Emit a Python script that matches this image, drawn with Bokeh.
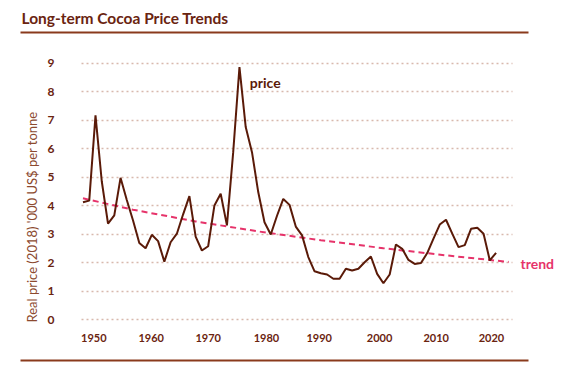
import math
from bokeh.plotting import figure
from bokeh.models import (Range1d, FixedTicker, CustomJSTickFormatter, Label,
                          ColumnDataSource, LinearAxis)
from bokeh.embed import file_html
from bokeh.resources import INLINE

# ---- data ----
years = list(range(1952, 2019))
price = [4.12, 4.18, 7.17, 4.86, 3.37, 3.66, 4.98, 4.20, 3.48, 2.69,
         2.51, 2.98, 2.76, 2.04, 2.72, 3.02, 3.70, 4.34, 2.92, 2.43,
         2.58, 4.01, 4.42, 3.31, 5.88, 8.86, 6.76, 5.88, 4.48, 3.42,
         2.99, 3.65, 4.24, 4.03, 3.27, 2.96, 2.20, 1.70, 1.63, 1.59,
         1.44, 1.44, 1.79, 1.73, 1.79, 2.02, 2.22, 1.61, 1.28, 1.59,
         2.64, 2.49, 2.10, 1.96, 1.99, 2.34, 2.85, 3.34, 3.51, 3.02,
         2.55, 2.62, 3.19, 3.23, 3.02, 2.08, 2.35]
assert len(years) == len(price)

trend_years = [1952, 1960, 1970, 1980, 1990, 2000, 2010, 2020]
trend_vals = [4.26, 3.86, 3.45, 3.10, 2.79, 2.51, 2.26, 2.03]

y_ticks = [0, 1, 2, 3, 4, 5, 6, 7, 8, 9]
x_tick_labels = ["1950", "1960", "1970", "1980", "1990", "2000", "2010", "2020"]
# where the decade labels sit along the data's year axis in the reference
x_tick_pos = [1953.73, 1962.90, 1972.01, 1981.32, 1989.74, 1999.38, 2008.43, 2017.27]

TITLE = "Long-term Cocoa Price Trends"
YLABEL = "Real price (2018) '000 US$ per tonne"
SERIES_LABEL = "price"
TREND_LABEL = "trend"
TREND_LABEL_AT = 1.96   # level of the trend line where its label sits

BROWN = "#5a1a08"
TITLE_BROWN = "#6a2410"
RULE = "#8a3a1c"
PINK = "#e6336a"
GRID = "#d8b9ad"
LIGHT = "#8c4a2f"
FONT = "Lato"

# plotting area spans the full width between the two rules
p = figure(width=567, height=372, output_backend="svg", toolbar_location=None,
           x_range=Range1d(1942.017, 2023.18), y_range=Range1d(-1.428, 10.077),
           min_border_left=20, min_border_right=39, min_border_top=32,
           min_border_bottom=12)
p.outline_line_color = None

# title
p.title.text = TITLE
p.title.align = "left"
p.title.offset = 1
p.title.standoff = 12
p.title.text_font = FONT
p.title.text_font_style = "bold"
p.title.text_font_size = "15.5px"
p.title.text_color = TITLE_BROWN

src = ColumnDataSource(dict(year=years, price=price))
tsrc = ColumnDataSource(dict(year=trend_years, val=trend_vals))
p.line("year", "val", source=tsrc, line_color=PINK, line_width=2, line_dash="6 4")
p.line("year", "price", source=src, line_color=BROWN, line_width=2)

# left value axis, drawn just left of where the gridlines begin
yax = p.yaxis[0]
yax.ticker = FixedTicker(ticks=y_ticks)
yax.fixed_location = 1947.77
yax.bounds = (-0.095, 9.27)
yax.axis_line_color = None
yax.major_tick_line_color = None
yax.minor_tick_line_color = None
yax.major_tick_out = 0
yax.minor_tick_out = 0
yax.major_tick_in = 0
yax.minor_tick_in = 0
yax.major_label_text_font = FONT
yax.major_label_text_font_style = "bold"
yax.major_label_text_font_size = "12px"
yax.major_label_text_color = TITLE_BROWN
yax.major_label_standoff = 2

# value-axis title, running upward from the foot of the value scale
p.add_layout(Label(x=1943.775, y=-0.095, text=YLABEL, angle=math.pi / 2,
                   text_font=FONT, text_font_size="13px", text_color=LIGHT,
                   text_align="left", text_baseline="middle"))

# bottom axis: its line is the lower rule, its labels sit above it
xax = p.xaxis[0]
xax.ticker = FixedTicker(ticks=x_tick_pos)
xax.formatter = CustomJSTickFormatter(args=dict(labels=x_tick_labels),
                                      code="return labels[index];")
xax.axis_line_color = RULE
xax.axis_line_width = 2
xax.major_tick_line_color = None
xax.minor_tick_line_color = None
xax.major_label_text_font = FONT
xax.major_label_text_font_style = "bold"
xax.major_label_text_font_size = "11px"
xax.major_label_text_color = TITLE_BROWN
xax.major_label_standoff = -33

# top axis: only its line, the upper rule
tax = LinearAxis(ticker=FixedTicker(ticks=[]))
tax.axis_line_color = RULE
tax.axis_line_width = 2
tax.major_tick_line_color = None
tax.minor_tick_line_color = None
tax.major_label_text_font_size = "0px"
p.add_layout(tax, "above")

# right-hand axis carries the "trend" tag at the trend's end level
rax = LinearAxis(ticker=FixedTicker(ticks=[TREND_LABEL_AT]),
                 formatter=CustomJSTickFormatter(args=dict(t=TREND_LABEL),
                                                 code="return t;"))
rax.axis_line_color = None
rax.major_tick_line_color = None
rax.minor_tick_line_color = None
rax.major_label_text_font = FONT
rax.major_label_text_font_style = "bold"
rax.major_label_text_font_size = "14px"
rax.major_label_text_color = PINK
rax.major_label_standoff = -14
p.add_layout(rax, "right")

p.xgrid.grid_line_color = None
p.ygrid.ticker = FixedTicker(ticks=y_ticks)
p.ygrid.grid_line_color = GRID
p.ygrid.grid_line_width = 1.3
p.ygrid.grid_line_dash = "2 3"
try:
    p.ygrid.cross_bounds = (1951.763, 2020.624)
except AttributeError:
    pass

p.add_layout(Label(x=1978.65, y=8.33, text=SERIES_LABEL, text_font=FONT,
                   text_font_style="bold", text_font_size="14px",
                   text_color=BROWN, text_baseline="middle"))

open("out.html", "w").write(file_html(p, INLINE))
